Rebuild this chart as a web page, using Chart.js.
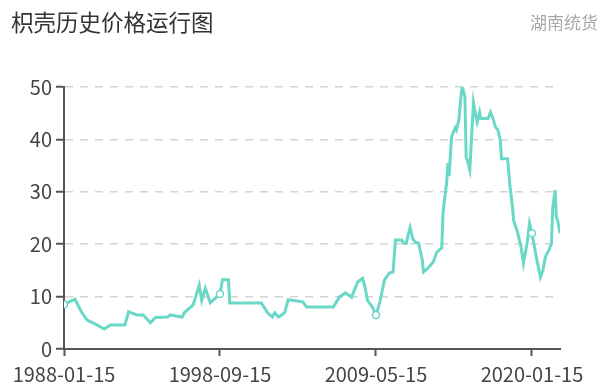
<!DOCTYPE html>
<html>
<head>
<meta charset="utf-8">
<script src="https://cdn.jsdelivr.net/npm/chart.js@4"></script>
<style>
	html, body { margin: 0; padding: 0; background: #fff; }
	#wrap { position: relative; width: 609px; height: 387px; }
	.title { position: absolute; left: 11px; top: 5px; font: 22.5px "Noto Sans CJK SC", sans-serif; color: #333; }
	.source { position: absolute; right: 11px; top: 9px; font: 17px "Noto Sans CJK SC", sans-serif; color: #a8a8a8; }
</style>
</head>
<body>
<div id="wrap">
	<canvas id="chart" width="609" height="387"></canvas>
	<div class="title">枳壳历史价格运行图</div>
	<div class="source">湖南统货</div>
</div>
<script>
// price history (month, price)
const dates = [
	'1988-01', '1988-10', '1989-03', '1989-08', '1990-04', '1990-10', '1991-03', '1992-03', '1992-06',
	'1993-01', '1993-06', '1993-12', '1994-04', '1995-02', '1995-04', '1996-02', '1996-04',
	'1996-11', '1997-04', '1997-06', '1997-09', '1998-01', '1998-09', '1998-11', '1999-04',
	'1999-05', '2001-07', '2001-12', '2002-04', '2002-06', '2002-09', '2003-02', '2003-05',
	'2004-05', '2004-08', '2006-06', '2006-08', '2006-11', '2007-04', '2007-09', '2008-02',
	'2008-06', '2008-08', '2008-10', '2009-02', '2009-05', '2009-08', '2009-12', '2010-04',
	'2010-07', '2010-09', '2011-02', '2011-04', '2011-06', '2011-07', '2011-09', '2011-11',
	'2012-01', '2012-04', '2012-07', '2012-08', '2012-12', '2013-04', '2013-07', '2013-11',
	'2013-12', '2014-02', '2014-03', '2014-04', '2014-05', '2014-07', '2014-10', '2014-11',
	'2015-01', '2015-03', '2015-04', '2015-06', '2015-07', '2015-08', '2015-10', '2016-01',
	'2016-02', '2016-04', '2016-06', '2016-07', '2017-01', '2017-03', '2017-05', '2017-07',
	'2017-09', '2017-11', '2017-12', '2018-05', '2018-07', '2018-09', '2018-10', '2019-01',
	'2019-04', '2019-06', '2019-09', '2019-11', '2020-01', '2020-03', '2020-05', '2020-08',
	'2020-10', '2020-12', '2021-03', '2021-05', '2021-06', '2021-08', '2021-09', '2021-10',
	'2021-12',
];
const prices = [
	8.5, 9.5, 7.2, 5.5, 4.6, 3.8, 4.6, 4.6, 7.1,
	6.5, 6.5, 5.0, 6.0, 6.1, 6.5, 6.1, 7.0,
	8.4, 12.2, 9.3, 11.6, 8.8, 10.5, 13.2, 13.2,
	8.8, 8.8, 6.9, 6.1, 6.9, 6.1, 6.9, 9.4,
	9.0, 8.0, 8.0, 8.8, 9.9, 10.7, 9.9, 12.8,
	13.5, 11.8, 9.3, 8.0, 6.5, 8.8, 13.2, 14.5,
	14.7, 20.8, 20.8, 20.2, 20.2, 21.4, 23.2, 21.2,
	20.4, 20.2, 17.0, 14.7, 15.5, 16.6, 18.5, 19.3,
	26.0, 30.0, 31.7, 35.5, 33.0, 40.5, 42.2, 41.8,
	43.7, 48.9, 50.0, 48.0, 36.6, 36.0, 34.2, 47.0,
	45.6, 43.3, 45.2, 44.0, 44.0, 45.2, 44.0, 42.4,
	41.8, 39.9, 36.3, 36.3, 31.0, 27.1, 24.5, 22.4,
	19.5, 16.4, 20.2, 24.0, 22.1, 19.5, 17.0, 13.7,
	15.0, 17.6, 18.9, 20.2, 26.9, 30.3, 25.2, 24.6,
	22.1,
];
const tickLabels = ['1988-01-15', '1998-09-15', '2009-05-15', '2020-01-15'];
const yTicks = [0, 10, 20, 30, 40, 50];

// months counted from the first date
const monthIndex = (d) => {
	const [y, m] = d.split('-').map(Number);
	return (y - 1988) * 12 + (m - 1);
};
const tickMonths = tickLabels.map(monthIndex);
const points = dates.map((d, i) => ({ x: monthIndex(d), y: prices[i] }));

const font = '"Noto Sans CJK SC", "Noto Sans", sans-serif';
const lineColor = '#6ad8c6';
const axisColor = '#555';

const ctx = document.querySelector('#chart').getContext('2d');
new Chart(ctx, {
	type: 'line',
	data: {
		datasets: [
			{
				data: points,
				borderColor: lineColor,
				borderWidth: 3,
				tension: 0,
				pointRadius: (c) => (tickMonths.includes(c.raw.x) ? 3.5 : 0),
				pointBackgroundColor: '#fff',
				pointBorderColor: lineColor,
				pointBorderWidth: 1.5,
			},
		],
	},
	options: {
		responsive: false,
		animation: false,
		layout: { padding: { top: 87, right: 49, left: 0, bottom: 0 } },
		plugins: { legend: { display: false }, tooltip: { enabled: false } },
		scales: {
			x: {
				type: 'linear',
				min: 0,
				max: monthIndex(dates[dates.length - 1]),
				afterBuildTicks: (scale) => {
					scale.ticks = tickMonths.map((v) => ({ value: v }));
				},
				afterFit: (scale) => {
					scale.height = 38;
				},
				ticks: {
					autoSkip: false,
					maxRotation: 0,
					padding: 6,
					color: '#444',
					font: { family: font, size: 20 },
					callback: (v, i) => tickLabels[i],
				},
				grid: {
					drawOnChartArea: false,
					tickLength: 7,
					tickColor: axisColor,
					tickWidth: 2,
				},
				border: { color: axisColor, width: 2 },
			},
			y: {
				min: 0,
				max: 50,
				afterBuildTicks: (scale) => {
					scale.ticks = yTicks.map((v) => ({ value: v }));
				},
				afterFit: (scale) => {
					scale.width = 64;
				},
				ticks: {
					padding: 4,
					color: '#444',
					font: { family: font, size: 20 },
				},
				grid: {
					color: '#d4d4d4',
					lineWidth: 1.5,
					tickLength: 8,
					tickColor: axisColor,
					tickWidth: 2,
					tickBorderDash: [],
				},
				border: { color: axisColor, width: 2, dash: [8, 7] },
			},
		},
	},
});
</script>
</body>
</html>
